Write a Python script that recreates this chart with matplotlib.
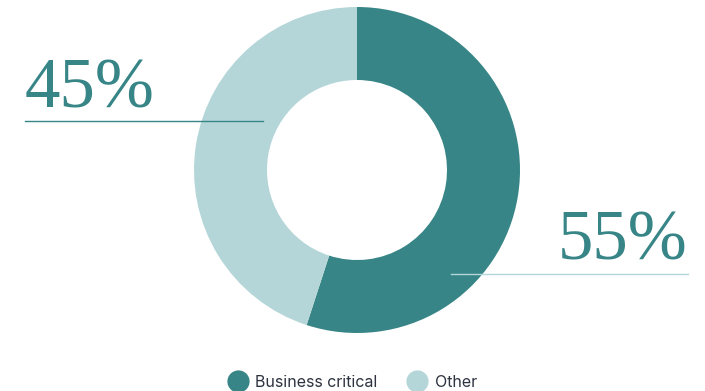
import matplotlib.pyplot as plt
from matplotlib.lines import Line2D

categories = ["Business critical", "Other"]
shares = [55, 45]
colors = ["#378586", "#b5d6d8"]

W, H = 705, 391

fig = plt.figure(figsize=(W / 100, H / 100), dpi=100)
ax = fig.add_axes([0, 0, 1, 1])

# donut, in pixel-like data units (y measured from the bottom)
cx, cy, r = 357, H - 170, 163
wedges, _ = ax.pie(shares, colors=colors, startangle=90, counterclock=False,
                   radius=r, center=(cx, cy), frame=True,
                   wedgeprops=dict(width=73, linewidth=0))
ax.set_xlim(0, W)
ax.set_ylim(0, H)
ax.set_aspect("equal")
ax.axis("off")

serif = "Liberation Serif"
# 45% label (Other)
ax.text(25, H - 108, f"{shares[1]}%", fontsize=51, family=serif,
        color=colors[0], ha="left", va="baseline")
ax.plot([25, 263], [H - 121, H - 121], color=colors[0], lw=1, zorder=3)
# 55% label (Business critical)
ax.text(688, H - 260, f"{shares[0]}%", fontsize=51, family=serif,
        color=colors[0], ha="right", va="baseline")
ax.plot([451, 688], [H - 274, H - 274], color=colors[1], lw=1, zorder=3)

handles = [Line2D([], [], marker="o", ls="", markersize=16,
                  markerfacecolor=c, markeredgewidth=0) for c in colors]
ax.legend(handles, categories, loc="lower center",
          bbox_to_anchor=(0.5, -0.034), ncol=2, frameon=False,
          prop=dict(family="Inter", size=11.5), labelcolor="#2d3340",
          handletextpad=0.5, columnspacing=1.9, handlelength=1.2)

fig.savefig("out.png", dpi=100)
